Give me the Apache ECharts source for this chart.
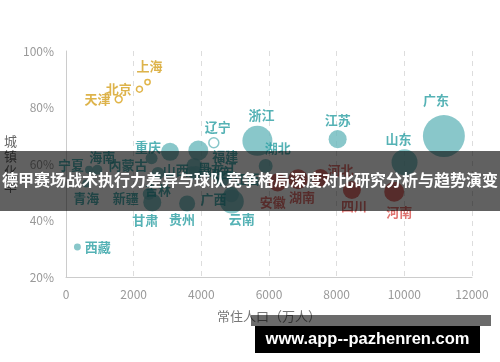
<!DOCTYPE html>
<html><head><meta charset="utf-8">
<script src="https://cdn.jsdelivr.net/npm/echarts@6/dist/echarts.min.js"></script>
<style>html,body{margin:0;padding:0;background:#fff}#c{width:500px;height:362px}</style>
</head><body><div id="c"></div>
<script>
// ---- data ----
const provinces = ['北京','天津','上海','西藏','辽宁','浙江','江苏','广东','山东','湖北','重庆','福建','黑龙江','山西','内蒙古','宁夏','海南','青海','新疆','甘肃','贵州','云南','广西','陕西','吉林','江西','安徽','湖南','河北','四川','河南'];
const population = [2171,1557,2410,337,4369,5657,8029,11169,10006,5902,3075,3911,3789,3702,2529,682,926,598,2445,2550,3580,4900,4885,3835,2717,4622,6255,6860,7520,8450,9700];
const urbanRate = [86.5,82.9,89.0,30.6,67.5,68.2,68.8,69.9,60.6,59.3,64.3,64.8,59.4,57.3,62.0,58.0,58.0,53.1,49.4,46.4,46.0,46.7,49.2,56.8,56.7,54.6,53.5,54.6,55.0,50.8,50.2];
const indicator = [0.9,1.2,0.7,1.2,2.5,22.7,8.2,44.4,17,4.9,8.2,10,6,3,3.6,1.6,2.5,1.6,3.6,8.2,6.5,14.5,6,5,4,5,8.2,10,8.2,8.2,10];
const groupOf = ['直辖市','直辖市','直辖市','其他','其他','其他','其他','其他','其他','其他','其他','其他','其他','其他','其他','其他','其他','其他','其他','其他','其他','其他','其他','其他','其他','其他','人口大省','人口大省','人口大省','人口大省','人口大省'];
const xTicks = [0,2000,4000,6000,8000,10000,12000];
const yTicks = [20,40,60,80,100];
const titleText = '德甲赛场战术执行力差异与球队竞争格局深度对比研究分析与趋势演变';
const watermarkText = 'www.app--pazhenren.com';

// ---- styles ----
const groupStyle = {
  '直辖市': {fill:'#d9a21b', label:'#d4a01e'},
  '其他':   {fill:'#6cb9bd', label:'#2a9fa3'},
  '人口大省': {fill:'#d9534f', label:'#d9534f'}
};
const hollow = ['北京','天津','上海','辽宁'];
const labelStyle = {
  '北京':['left',0,0],'天津':['left',0,0],'上海':['top',2,-2],'西藏':['right',0,0],
  '辽宁':['top',4,0],'浙江':['top',4,0],'江苏':['top',0,0],'广东':['top',-8,-4],
  '山东':['top',-6,0],'湖北':['top',12,0],'重庆':['left',4,-5],'福建':['right',0,6],
  '黑龙江':['right',-8,2],'山西':['left',7,-2],'内蒙古':['left',6,7],'宁夏':['left',3,-5],
  '海南':['top',5,3],'青海':['bottom',0,0],'新疆':['left',0,4],'甘肃':['bottom',-7,-2],
  '贵州':['bottom',-5,-3],'云南':['bottom',10,-5],'广西':['left',7,5],'陕西':['right',0,0],
  '吉林':['bottom',0,0],'江西':['right',0,0],'安徽':['bottom',-5,0],'湖南':['bottom',4,-3],
  '河北':['right',-6,-8],'四川':['bottom',2,-3],'河南':['bottom',5,0]
};
const FONT = '"Noto Sans CJK SC","Noto Sans",sans-serif';

const groups = ['直辖市','其他','人口大省'];
const series = groups.map(g => {
  const st = groupStyle[g];
  const data = [];
  provinces.forEach((p, i) => {
    if (groupOf[i] !== g) return;
    const ls = labelStyle[p] || ['top',0,0];
    const isHollow = hollow.indexOf(p) >= 0;
    data.push({
      name: p,
      value: [population[i], urbanRate[i], indicator[i]],
      itemStyle: isHollow ? {color:'#ffffff', borderColor: st.fill, borderWidth: 1.5} : {color: st.fill},
      label: {position: ls[0], offset: [ls[1], ls[2]]}
    });
  });
  return {
    type: 'scatter', name: g, data: data,
    symbolSize: v => Math.sqrt(v[2]) * 6.3,
    label: {show: true, formatter: '{b}', color: st.label, fontSize: 13, fontWeight: 'bold', fontFamily: FONT, distance: 4},
    emphasis: {disabled: true}
  };
});

const chart = echarts.init(document.getElementById('c'), null, {renderer: 'canvas'});
chart.setOption({
  animation: false,
  backgroundColor: '#ffffff',
  grid: {left: 66, right: 28, top: 51, bottom: 85},
  xAxis: {
    type: 'value', min: xTicks[0], max: xTicks[xTicks.length-1], interval: xTicks[1]-xTicks[0],
    name: '常住人口（万人）', nameLocation: 'middle', nameGap: 33,
    nameTextStyle: {color: '#777', fontSize: 13, fontFamily: FONT},
    axisLine: {show: true, lineStyle: {color: '#cccccc'}},
    axisTick: {show: false},
    axisLabel: {color: '#999', fontSize: 12, margin: 11, fontFamily: FONT, formatter: v => String(v)},
    splitLine: {show: true, lineStyle: {color: '#dddddd', type: [5, 5]}}
  },
  yAxis: {
    type: 'value', min: yTicks[0], max: yTicks[yTicks.length-1], interval: yTicks[1]-yTicks[0],
    name: '城\n镇\n化\n率', nameLocation: 'middle', nameGap: 47, nameRotate: 0,
    nameTextStyle: {color: '#666', fontSize: 13, lineHeight: 15, fontFamily: FONT},
    axisLine: {show: true, lineStyle: {color: '#cccccc'}},
    axisTick: {show: false},
    axisLabel: {color: '#999', fontSize: 12, margin: 12, formatter: '{value}%', fontFamily: FONT},
    splitLine: {show: false}
  },
  series: series,
  graphic: [
    {type: 'rect', left: 0, top: 151, z: 100, shape: {width: 500, height: 60}, style: {fill: 'rgba(0,0,0,0.62)'}},
    {type: 'text', left: 'center', top: 172, z: 101, style: {text: titleText, fill: '#ffffff', font: 'bold 16px "Noto Sans CJK SC", sans-serif'}},
    {type: 'rect', left: 251, top: 315, z: 100, shape: {width: 240, height: 11}, style: {fill: 'rgba(0,0,0,0.58)'}},
    {type: 'rect', left: 255, top: 326, z: 101, shape: {width: 225, height: 27}, style: {fill: '#000000'}},
    {type: 'text', x: 367.5, y: 339.5, z: 102, style: {text: watermarkText, fill: '#ffffff', align: 'center', verticalAlign: 'middle', font: 'bold 16.5px "Liberation Sans", Arial, sans-serif'}}
  ]
});
</script>
</body></html>
